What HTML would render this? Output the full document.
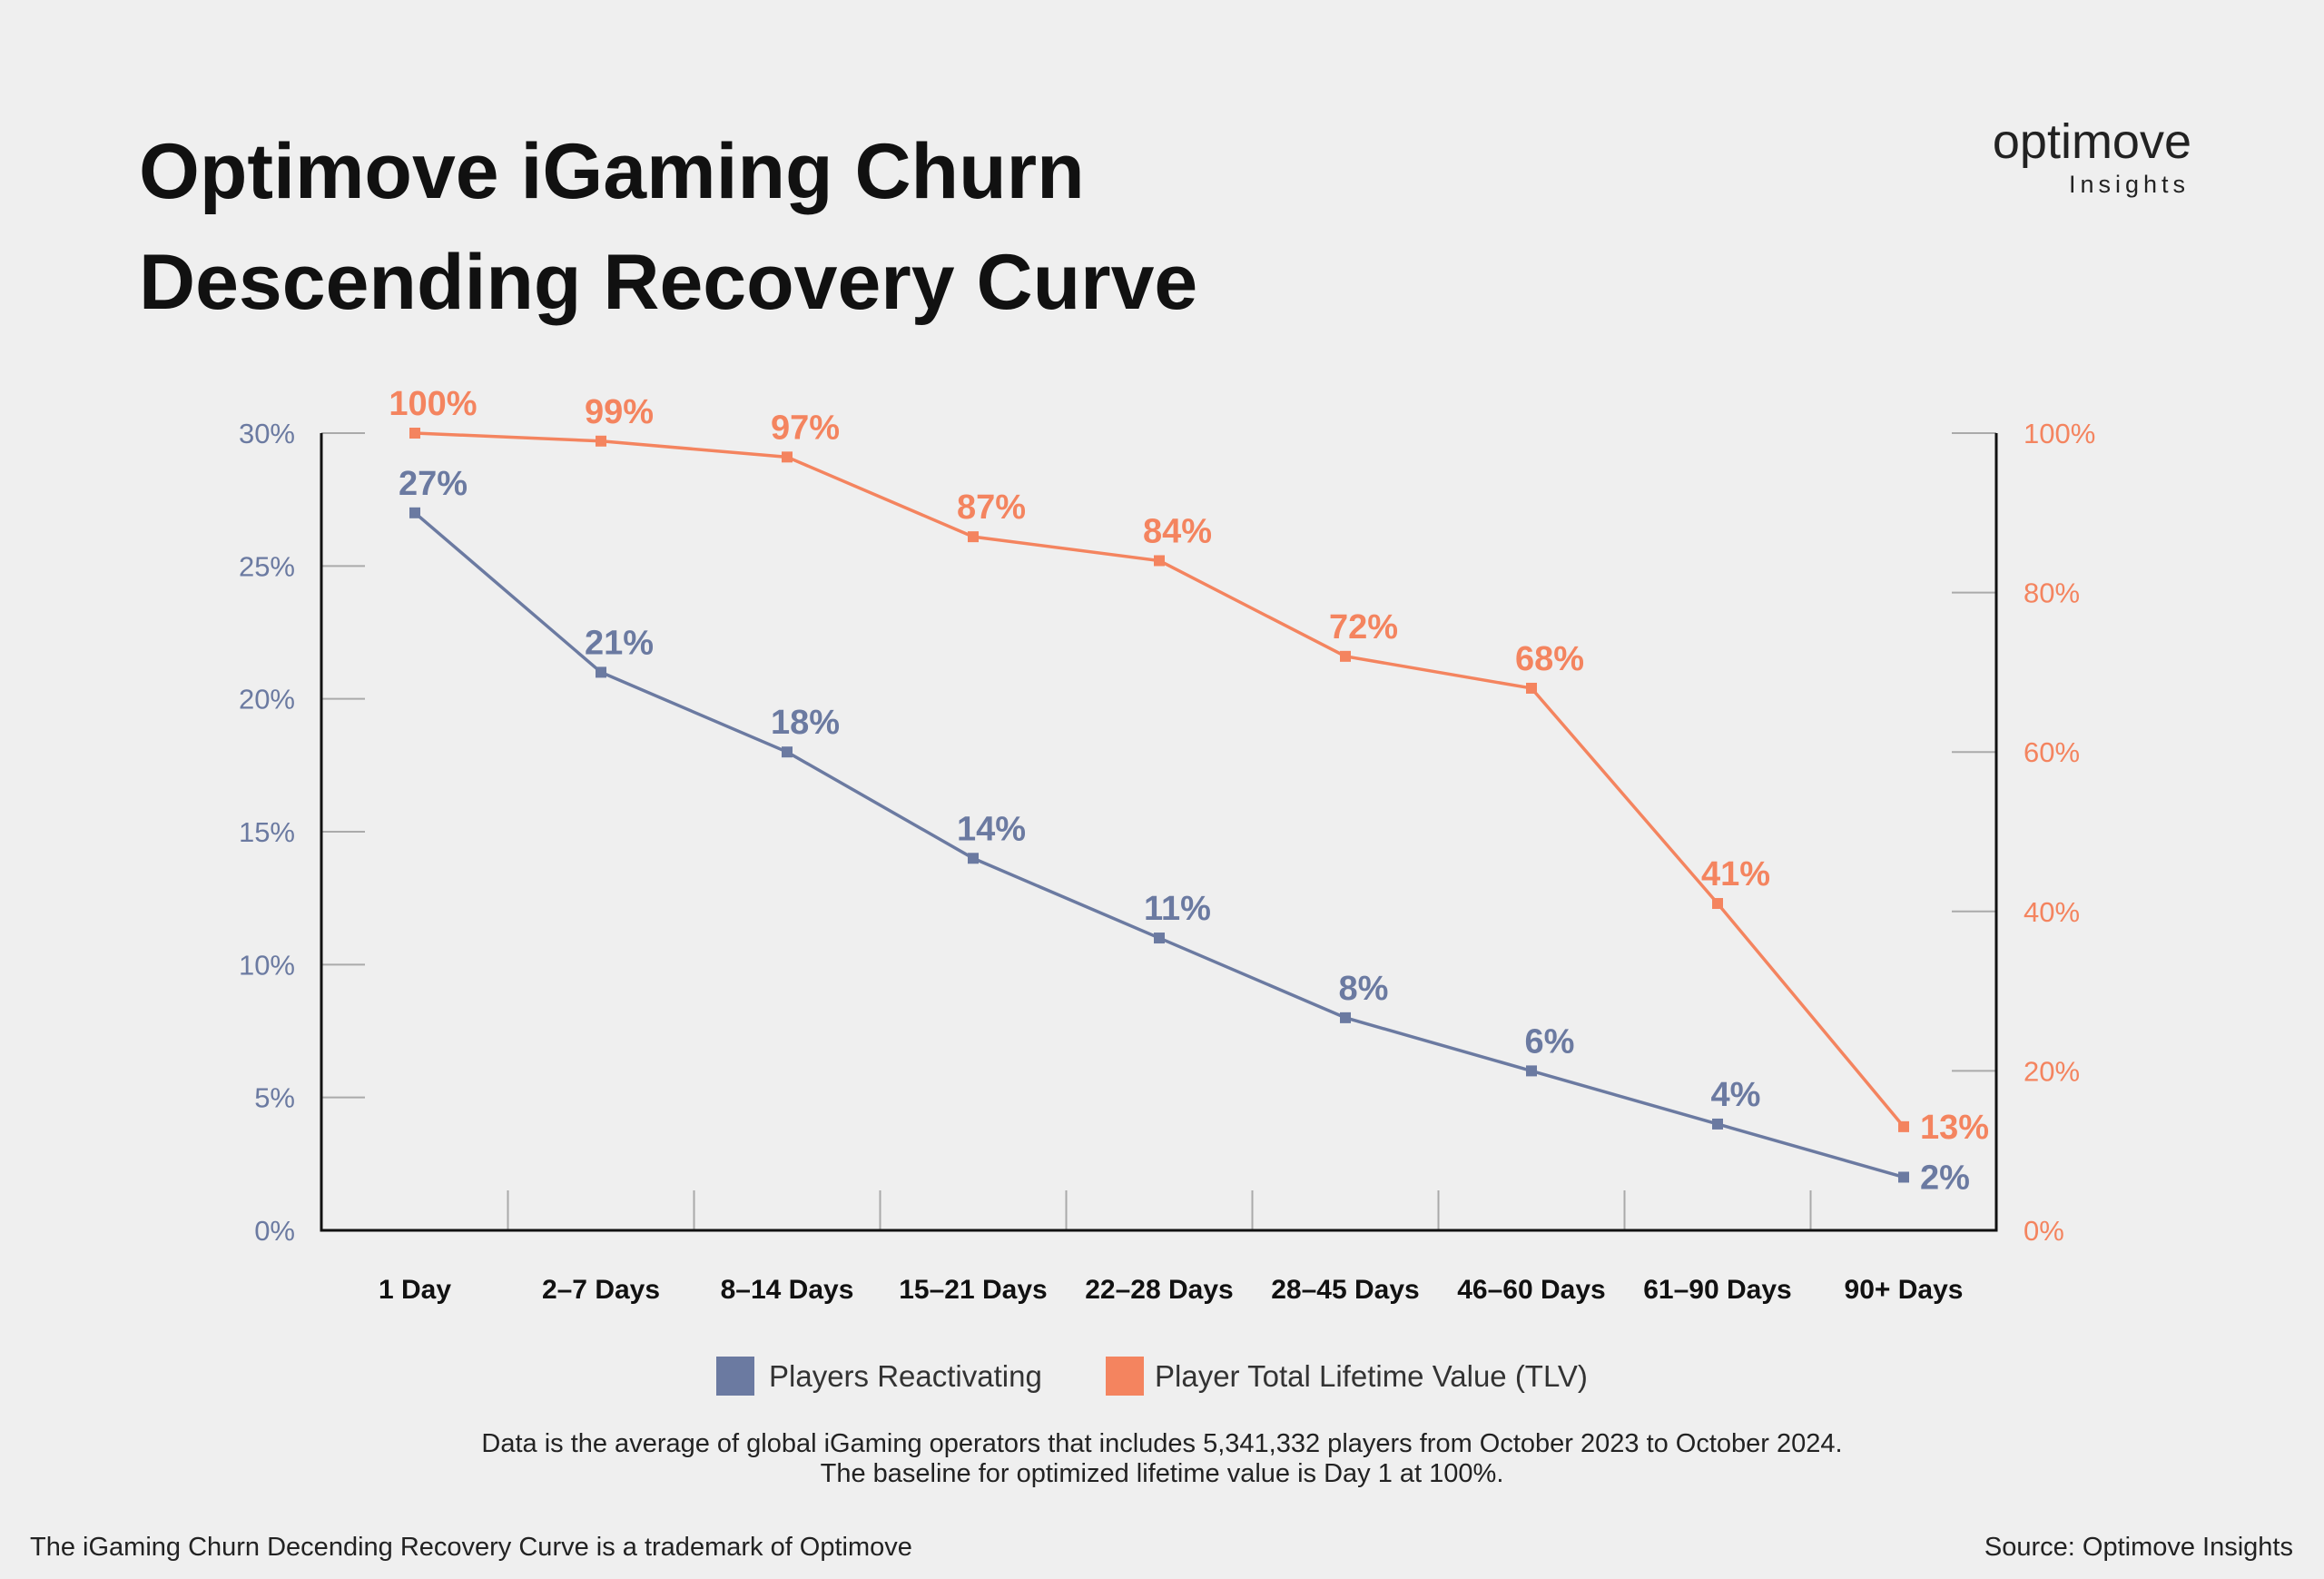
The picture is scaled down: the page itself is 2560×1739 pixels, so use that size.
<!DOCTYPE html>
<html><head><meta charset="utf-8">
<style>
html,body{margin:0;padding:0;background:#efefef;}
body{width:2560px;height:1739px;position:relative;overflow:hidden;font-family:"Liberation Sans",sans-serif;}
.t{position:absolute;white-space:nowrap;}
</style></head>
<body>
<div class="t" style="left:153px;top:128px;font-size:86px;line-height:122px;color:#111;font-weight:bold;">Optimove iGaming Churn<br>Descending Recovery Curve</div>
<div class="t" style="right:146px;top:126px;font-size:54px;color:#222;line-height:60px;">optimove</div>
<div class="t" style="right:148px;top:188px;font-size:27px;letter-spacing:5px;color:#222;">Insights</div>
<svg id="chart" width="2560" height="1739" style="position:absolute;left:0;top:0;font-family:'Liberation Sans',sans-serif;"></svg>
<div class="t" style="left:789px;top:1494px;font-size:33px;color:#333;line-height:43px;"><span style="display:inline-block;width:42px;height:43px;background:#6b7aa1;vertical-align:top;margin-right:16px;"></span>Players Reactivating</div>
<div class="t" style="left:1218px;top:1494px;font-size:33px;color:#333;line-height:43px;"><span style="display:inline-block;width:42px;height:43px;background:#f4845f;vertical-align:top;margin-right:12px;"></span>Player Total Lifetime Value (TLV)</div>
<div class="t" style="left:0;width:2560px;text-align:center;top:1574px;font-size:29px;line-height:33px;color:#222;">Data is the average of global iGaming operators that includes 5,341,332 players from October 2023 to October 2024.<br>The baseline for optimized lifetime value is Day 1 at 100%.</div>
<div class="t" style="left:33px;top:1688px;font-size:29px;color:#222;">The iGaming Churn Decending Recovery Curve is a trademark of Optimove</div>
<div class="t" style="right:34px;top:1688px;font-size:29px;color:#222;">Source: Optimove Insights</div>
<script>
const categories=["1 Day","2–7 Days","8–14 Days","15–21 Days","22–28 Days","28–45 Days","46–60 Days","61–90 Days","90+ Days"];
const players=[27,21,18,14,11,8,6,4,2];
const tlv=[100,99,97,87,84,72,68,41,13];
const leftTicks=[0,5,10,15,20,25,30];
const rightTicks=[0,20,40,60,80,100];
const NS="http://www.w3.org/2000/svg";
const svg=document.getElementById('chart');
const L=354,R=2199,B=1355,T=477,X0=457,DX=205;
const x=i=>X0+i*DX;
const yl=v=>B-(v/30)*(B-T);
const yr=v=>B-(v/100)*(B-T);
function mk(tag,a,txt){const e=document.createElementNS(NS,tag);for(const k in a)e.setAttribute(k,a[k]);if(txt!==undefined)e.textContent=txt;svg.appendChild(e);return e;}
leftTicks.forEach(v=>{
 let e=mk('line',{x1:L,x2:L+48,y1:yl(v),y2:yl(v),stroke:'#aaa','stroke-width':2});
 
 e=mk('text',{x:325,y:yl(v)+11,'text-anchor':'end','font-size':31,fill:'#6b7aa1'},v+'%');
 
});
rightTicks.forEach(v=>{
 let e=mk('line',{x1:R-49,x2:R,y1:yr(v),y2:yr(v),stroke:'#aaa','stroke-width':2});
 
 e=mk('text',{x:2229,y:yr(v)+11,'font-size':31,fill:'#f4845f'},v+'%');
 
});
for(let i=1;i<categories.length;i++){
 let e=mk('line',{x1:x(i)-DX/2,x2:x(i)-DX/2,y1:B-44,y2:B,stroke:'#aaa','stroke-width':2});
 
}
let ax=mk('path',{d:`M${L} ${T}V${B}H${R}V${T}`,fill:'none',stroke:'#111','stroke-width':3});

categories.forEach((c,i)=>{
 const e=mk('text',{x:x(i),y:1430,'text-anchor':'middle','font-size':30,fill:'#111','font-weight':'bold'},c);
 
});
function series(vals,yf,col,name){
 const p=mk('polyline',{points:vals.map((v,i)=>x(i)+','+yf(v)).join(' '),fill:'none',stroke:col,'stroke-width':3.5});
 
 vals.forEach((v,i)=>{
  const m=mk('rect',{x:x(i)-6,y:yf(v)-6,width:12,height:12,fill:col});
  
  const last=i===vals.length-1;
  const t=mk('text',{x:last?x(i)+18:x(i)+20,y:last?yf(v)+13:yf(v)-20,'text-anchor':last?'start':'middle','font-size':38,'font-weight':'bold',fill:col},v+'%');
  
 });
}
series(tlv,yr,'#f4845f','tlv');
series(players,yl,'#6b7aa1','players');
</script>
</body></html>
